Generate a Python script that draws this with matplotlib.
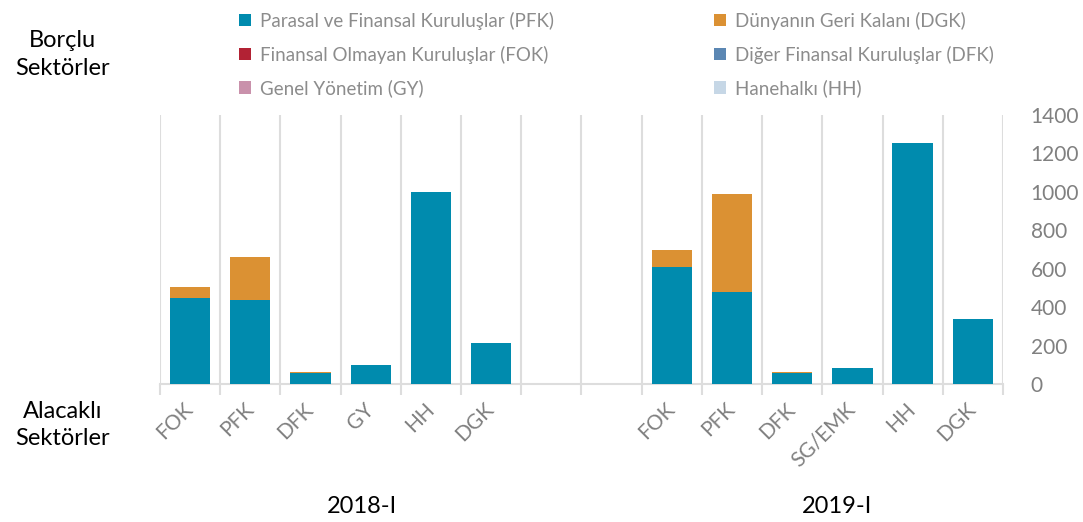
import matplotlib.pyplot as plt
import numpy as np

plt.rcParams['font.family'] = ['Lato', 'DejaVu Sans']

# kategoriler (iki dönem arasında iki boş yer var)
labels = ['FOK', 'PFK', 'DFK', 'GY', 'HH', 'DGK', '', '',
          'FOK', 'PFK', 'DFK', 'SG/EMK', 'HH', 'DGK']

# borçlu sektörlere göre değerler
pfk = [446, 439, 57, 99, 999, 213, 0, 0, 609, 480, 57, 83, 1256, 340]
dgk = [60, 222, 5, 0, 0, 0, 0, 0, 87, 509, 5, 0, 0, 0]
fok = [0] * 14
dfk = [0] * 14
gy = [0] * 14
hh = [0] * 14

periods = ['2018-I', '2019-I']

names = {
    'pfk': 'Parasal ve Finansal Kuruluşlar (PFK)',
    'dgk': 'Dünyanın Geri Kalanı (DGK)',
    'fok': 'Finansal Olmayan Kuruluşlar (FOK)',
    'dfk': 'Diğer Finansal Kuruluşlar (DFK)',
    'gy': 'Genel Yönetim (GY)',
    'hh': 'Hanehalkı (HH)',
}
colors = {
    'pfk': '#008BAE', 'dgk': '#DB9133', 'fok': '#B22234',
    'dfk': '#5B87B3', 'gy': '#C991AB', 'hh': '#C6D7E6',
}

fig = plt.figure(figsize=(10.83, 5.22), dpi=100)
ax = fig.add_axes([0.1477, 0.2644, 0.9261 - 0.1477, 0.7797 - 0.2644])

x = np.arange(len(labels))
w = 0.67
bottom = np.zeros(len(labels))
bars = {}
for key, vals in [('pfk', pfk), ('dgk', dgk), ('fok', fok),
                  ('dfk', dfk), ('gy', gy), ('hh', hh)]:
    vals = np.array(vals, dtype=float)
    bars[key] = ax.bar(x, vals, w, bottom=bottom, color=colors[key],
                       label=names[key], zorder=3)
    bottom += vals

ax.set_xlim(-0.5, len(labels) - 0.5)
ax.set_ylim(0, 1400)
ax.set_yticks(np.arange(0, 1401, 200))
ax.yaxis.tick_right()
ax.tick_params(axis='y', length=0, pad=20, labelsize=15, labelcolor='#808080')

ax.set_xticks(x)
ax.set_xticklabels(labels, rotation=45, ha='right', va='center',
                   rotation_mode='anchor', fontsize=15, color='#808080')
ax.tick_params(axis='x', which='major', length=0, pad=16)
ax.set_xticks(np.arange(-0.5, len(labels)), minor=True)
ax.tick_params(axis='x', which='minor', length=8, width=1.5, color='#DDDDDD')
ax.grid(axis='x', which='minor', color='#DDDDDD', linewidth=1.5, zorder=0)

for s in ['top', 'left', 'right']:
    ax.spines[s].set_visible(False)
ax.spines['bottom'].set_color('#DDDDDD')
ax.spines['bottom'].set_linewidth(1.5)

order = ['pfk', 'fok', 'gy', 'dgk', 'dfk', 'hh']
handles = [bars[k] for k in order]
leg = fig.legend(handles, [names[k] for k in order], ncol=2,
                 loc='upper left', bbox_to_anchor=(0.205, 1.01),
                 frameon=False, fontsize=13.5, handlelength=0.65,
                 handleheight=0.65, handletextpad=0.5, columnspacing=8.5,
                 labelspacing=0.84, labelcolor='#8C8C8C')

fig.text(0.058, 0.895, 'Borçlu\nSektörler', ha='center', va='center',
         fontsize=17, linespacing=1.4)
fig.text(0.058, 0.186, 'Alacaklı\nSektörler', ha='center', va='center',
         fontsize=17, linespacing=1.4)

for i, p in enumerate(periods):
    xc = 2.85 + i * 7.9
    ax.text(xc, -0.457, p, transform=ax.get_xaxis_transform(),
            ha='center', va='center', fontsize=17)

fig.savefig('out.png', dpi=100)
